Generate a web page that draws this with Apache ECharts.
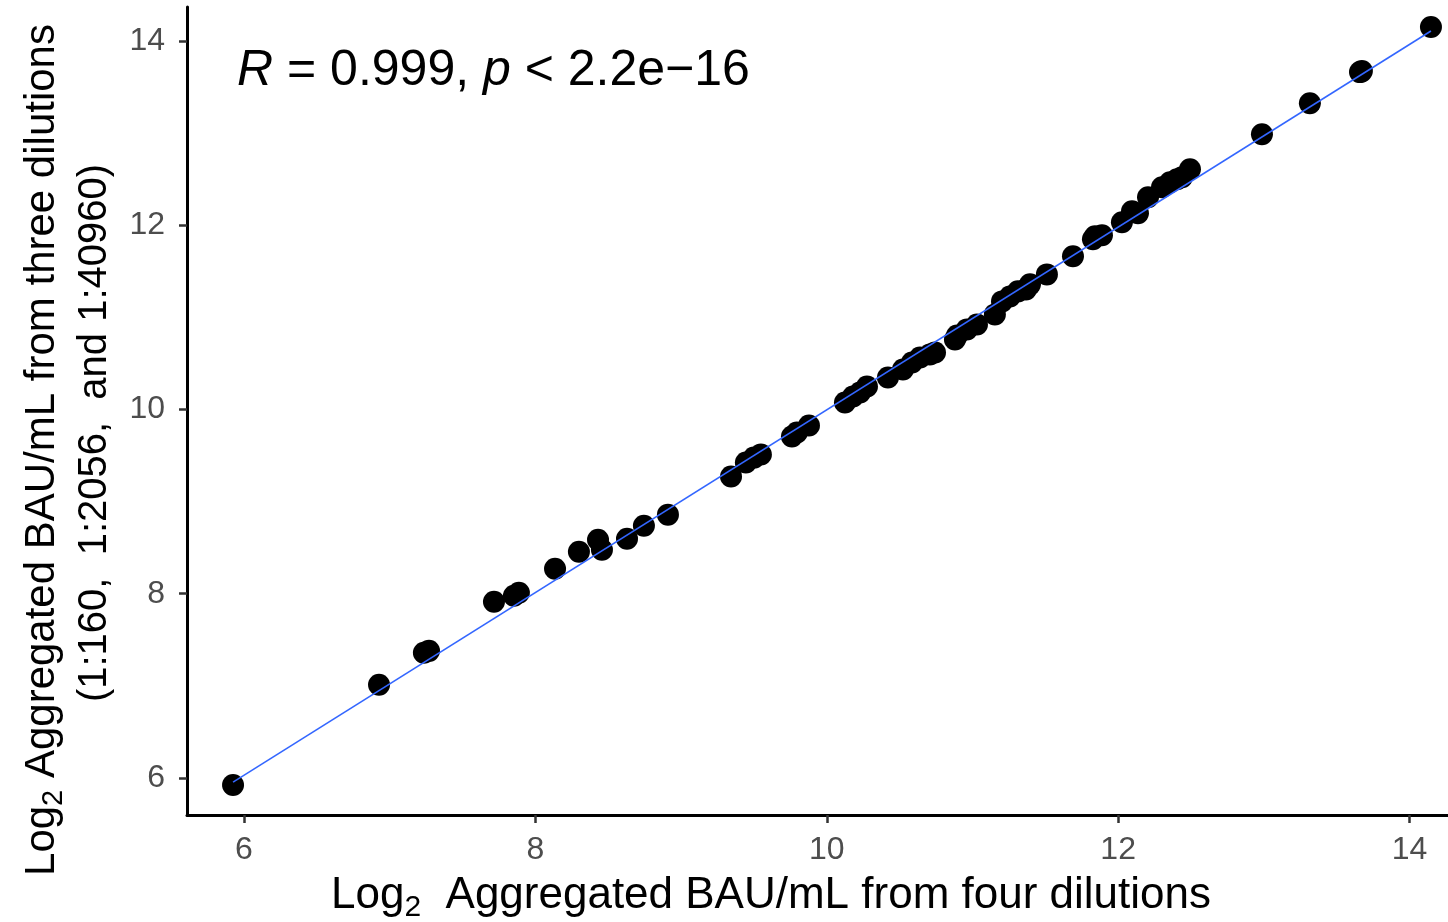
<!DOCTYPE html>
<html><head><meta charset="utf-8">
<script src="https://cdn.jsdelivr.net/npm/echarts@6/dist/echarts.min.js"></script>
<style>html,body{margin:0;padding:0;background:#fff}#c{width:1448px;height:922px}</style>
</head><body><div id="c"></div>
<script>
// Log2 aggregated BAU/mL from four dilutions (x) vs three dilutions (y)
const xValues = [5.925, 6.927, 7.235, 7.270, 7.716, 7.853, 7.887, 8.135, 8.299, 8.430, 8.457, 8.629, 8.745, 8.910,
  9.343, 9.445, 9.500, 9.548, 9.761, 9.795, 9.878, 10.125, 10.180, 10.228, 10.276, 10.420, 10.523, 10.585, 10.640,
  10.708, 10.743, 10.880, 10.894, 10.962, 11.031, 11.154, 11.203, 11.257, 11.312, 11.367, 11.395, 11.511, 11.690,
  11.827, 11.841, 11.889, 12.026, 12.095, 12.136, 12.205, 12.301, 12.356, 12.404, 12.438, 12.493, 12.987, 13.316,
  13.660, 13.673, 14.147];
const yValues = [5.924, 7.011, 7.359, 7.380, 7.913, 7.978, 8.011, 8.272, 8.457, 8.587, 8.478, 8.598, 8.739, 8.859,
  9.272, 9.424, 9.478, 9.511, 9.707, 9.750, 9.826, 10.076, 10.141, 10.185, 10.250, 10.348, 10.435, 10.511, 10.565,
  10.598, 10.620, 10.761, 10.804, 10.870, 10.924, 11.033, 11.174, 11.228, 11.283, 11.304, 11.359, 11.467, 11.663,
  11.848, 11.880, 11.891, 12.033, 12.152, 12.130, 12.304, 12.413, 12.467, 12.500, 12.522, 12.609, 12.989, 13.326,
  13.663, 13.674, 14.152];
const fitX = [5.925, 14.147];
const fitY = [5.955, 14.11];
const xTicks = [6, 8, 10, 12, 14];
const yTicks = [6, 8, 10, 12, 14];
const statR = '0.999';
const statP = '2.2e\u221216';

const points = xValues.map((x, i) => [x, yValues[i]]);
const fitLine = fitX.map((x, i) => [x, fitY[i]]);
const FONT = '"Liberation Sans", Arial, sans-serif';

const chart = echarts.init(document.getElementById('c'), null, {renderer: 'canvas'});
const axisCommon = {
  type: 'value',
  splitLine: {show: false},
  axisLine: {show: true, onZero: false, lineStyle: {color: '#000', width: 3}},
  axisTick: {show: true, length: 8, lineStyle: {color: '#333', width: 2.5}},
  axisLabel: {color: '#4D4D4D', fontSize: 32, fontFamily: FONT}
};
chart.setOption({
  animation: false,
  backgroundColor: '#fff',
  grid: {left: 187, right: 0, top: 7, bottom: 107},
  xAxis: Object.assign({}, axisCommon, {
    min: 5.609, max: 14.264,
    axisTick: Object.assign({}, axisCommon.axisTick, {customValues: xTicks}),
    axisLabel: Object.assign({}, axisCommon.axisLabel, {customValues: xTicks, margin: 19})
  }),
  yAxis: Object.assign({}, axisCommon, {
    min: 5.598, max: 14.37,
    axisTick: Object.assign({}, axisCommon.axisTick, {customValues: yTicks}),
    axisLabel: Object.assign({}, axisCommon.axisLabel, {customValues: yTicks, margin: 22})
  }),
  series: [
    {type: 'scatter', data: points, symbolSize: 22, itemStyle: {color: '#000', opacity: 1}, z: 2},
    {type: 'line', data: fitLine, showSymbol: false, symbol: 'none', lineStyle: {color: '#3366FF', width: 1.6}, z: 3}
  ],
  graphic: [
    {type: 'text', left: 237, top: 46, z: 10,
     style: {text: '{i|R} = ' + statR + ', {i|p} < ' + statP, fill: '#000', font: '50px ' + FONT,
       rich: {i: {fontStyle: 'italic', fontSize: 50, fontFamily: FONT, fill: '#000'}}}},
    {type: 'text', x: 771, y: 896, z: 10,
     style: {text: '{a|Log}{s|2}{a|  Aggregated BAU/mL from four dilutions}', align: 'center', verticalAlign: 'middle',
       rich: {a: {fontSize: 44, fontFamily: FONT, fill: '#000', lineHeight: 54, verticalAlign: 'middle'},
              s: {fontSize: 30, fontFamily: FONT, fill: '#000', lineHeight: 30, verticalAlign: 'bottom'}}}},
    {type: 'text', x: 42, y: 450, rotation: Math.PI / 2, z: 10,
     style: {text: '{a|Log}{s|2}{a| Aggregated BAU/mL from three dilutions}', align: 'center', verticalAlign: 'middle',
       rich: {a: {fontSize: 42, fontFamily: FONT, fill: '#000', lineHeight: 52, verticalAlign: 'middle'},
              s: {fontSize: 29, fontFamily: FONT, fill: '#000', lineHeight: 29, verticalAlign: 'bottom'}}}},
    {type: 'text', x: 95, y: 433, rotation: Math.PI / 2, z: 10,
     style: {text: '(1:160,  1:2056,  and 1:40960)', align: 'center', verticalAlign: 'middle',
       fill: '#000', font: '40px ' + FONT}}
  ]
});
</script></body></html>
